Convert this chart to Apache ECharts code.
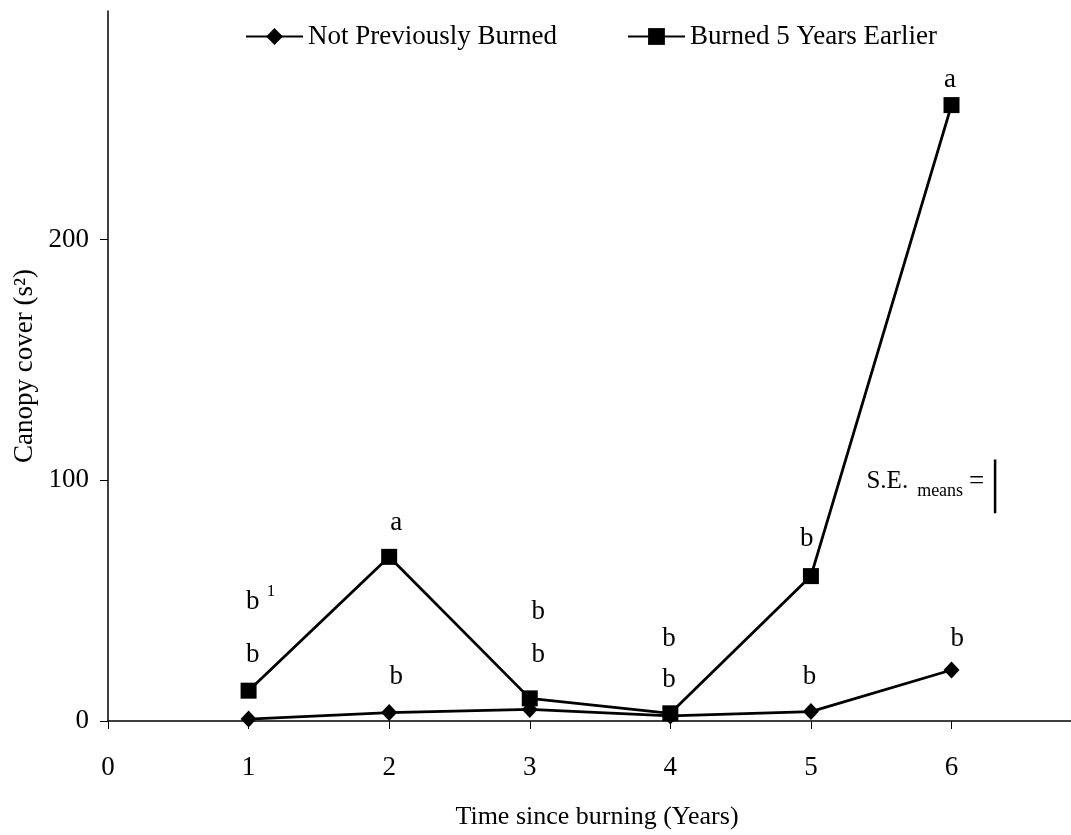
<!DOCTYPE html>
<html>
<head>
<meta charset="utf-8">
<script src="https://cdn.jsdelivr.net/npm/echarts@6/dist/echarts.min.js"></script>
<style>
html,body{margin:0;padding:0;background:#fff;}
#chart{width:1071px;height:835px;}
</style>
</head>
<body>
<div id="chart"></div>
<script>
const years = [1, 2, 3, 4, 5, 6];
const notBurned = [0.8, 3.5, 4.8, 2.1, 3.9, 21.2];
const burned5 = [12.6, 68.2, 9.4, 3.2, 60.2, 255.9];
const xTickValues = [0, 1, 2, 3, 4, 5, 6];
const yTickValues = [0, 100, 200];
const seriesNames = ['Not Previously Burned', 'Burned 5 Years Earlier'];
// significance letters: [x, y, text]
const letters = [
  [1.03, 49.4, 'b'], [1.03, 27.4, 'b'],
  [2.05, 82.3, 'a'], [2.05, 18.3, 'b'],
  [3.06, 45.2, 'b'], [3.06, 27.5, 'b'],
  [3.99, 34.2, 'b'], [3.99, 17.0, 'b'],
  [4.97, 75.5, 'b'], [4.99, 18.3, 'b'],
  [5.99, 266.5, 'a'], [6.04, 34.1, 'b']
];
const footnotes = [[1.159, 53.8, '1']];
const seMeans = 22.4;
const seX = 6.31;
const seBase = 86.3;
const seLabel = [[5.395, 98.3]];

const FONT = '"Liberation Serif", "Times New Roman", serif';
const chart = echarts.init(document.getElementById('chart'), null, {renderer: 'canvas'});

const lineCommon = {
  type: 'line',
  lineStyle: {color: '#000', width: 2.8},
  itemStyle: {color: '#000', opacity: 1},
  symbolKeepAspect: true,
  silent: true
};
const textMarks = {
  type: 'scatter', silent: true, symbolSize: 1,
  itemStyle: {color: 'rgba(0,0,0,0)', opacity: 1}
};

chart.setOption({
  animation: false,
  backgroundColor: '#fff',
  textStyle: {fontFamily: FONT, color: '#000'},
  grid: {left: 108, right: 0, top: 11, bottom: 114, containLabel: false},
  legend: {
    data: seriesNames,
    left: 245, top: 23, padding: 0,
    itemWidth: 57, itemHeight: 21, itemGap: 70,
    textStyle: {fontFamily: FONT, fontSize: 27, color: '#000'},
    selectedMode: false
  },
  xAxis: {
    type: 'value', min: 0, max: 6.85,
    name: 'Time since burning (Years)', nameLocation: 'middle', nameGap: 83, nameMoveOverlap: false,
    nameTextStyle: {fontFamily: FONT, fontSize: 26, color: '#000', padding: [0, 0, 0, 15]},
    axisLine: {show: true, lineStyle: {color: '#000', width: 1.5}},
    axisTick: {show: true, length: 8, inside: false, customValues: xTickValues, lineStyle: {color: '#000', width: 1}},
    axisLabel: {customValues: xTickValues, margin: 33, fontFamily: FONT, fontSize: 27, color: '#000'},
    splitLine: {show: false}
  },
  yAxis: {
    type: 'value', min: 0, max: 295,
    name: 'Canopy cover (s²)', nameLocation: 'middle', nameGap: 70, nameMoveOverlap: false,
    nameTextStyle: {fontFamily: FONT, fontSize: 27, color: '#000'},
    axisLine: {show: true, lineStyle: {color: '#000', width: 1.5}},
    axisTick: {show: true, length: 8, inside: false, customValues: yTickValues, lineStyle: {color: '#000', width: 1}},
    axisLabel: {customValues: yTickValues, margin: 19, fontFamily: FONT, fontSize: 27, color: '#000'},
    splitLine: {show: false}
  },
  series: [
    Object.assign({}, lineCommon, {
      name: seriesNames[1], symbol: 'rect', symbolSize: 16, z: 3,
      data: years.map((x, i) => [x, burned5[i]])
    }),
    Object.assign({}, lineCommon, {
      name: seriesNames[0], symbol: 'diamond', symbolSize: [16, 17], z: 4,
      data: years.map((x, i) => [x, notBurned[i]])
    }),
    Object.assign({}, textMarks, {
      data: letters.map(d => ({value: [d[0], d[1]], name: d[2]})),
      label: {show: true, position: 'inside', formatter: '{b}', fontFamily: FONT, fontSize: 27, color: '#000', opacity: 1}
    }),
    Object.assign({}, textMarks, {
      data: footnotes.map(d => ({value: [d[0], d[1]], name: d[2]})),
      label: {show: true, position: 'inside', formatter: '{b}', fontFamily: FONT, fontSize: 17, color: '#000', opacity: 1}
    }),
    Object.assign({}, textMarks, {
      data: seLabel.map(d => ({value: d})),
      label: {
        show: true, position: 'inside', align: 'left', opacity: 1,
        formatter: '{n|S.E.}{s|means}{e|=}',
        rich: {
          n: {fontFamily: FONT, fontSize: 25, color: '#000', padding: [0, 0, 5, 0]},
          s: {fontFamily: FONT, fontSize: 18, color: '#000', verticalAlign: 'bottom', padding: [0, 6, 0, 9]},
          e: {fontFamily: FONT, fontSize: 27, color: '#000', padding: [0, 0, 5, 0]}
        }
      }
    }),
    {
      type: 'line', silent: true, symbol: 'none',
      lineStyle: {color: '#000', width: 2.5},
      data: [[seX, seBase], [seX, seBase + seMeans]]
    }
  ]
});
</script>
</body>
</html>
